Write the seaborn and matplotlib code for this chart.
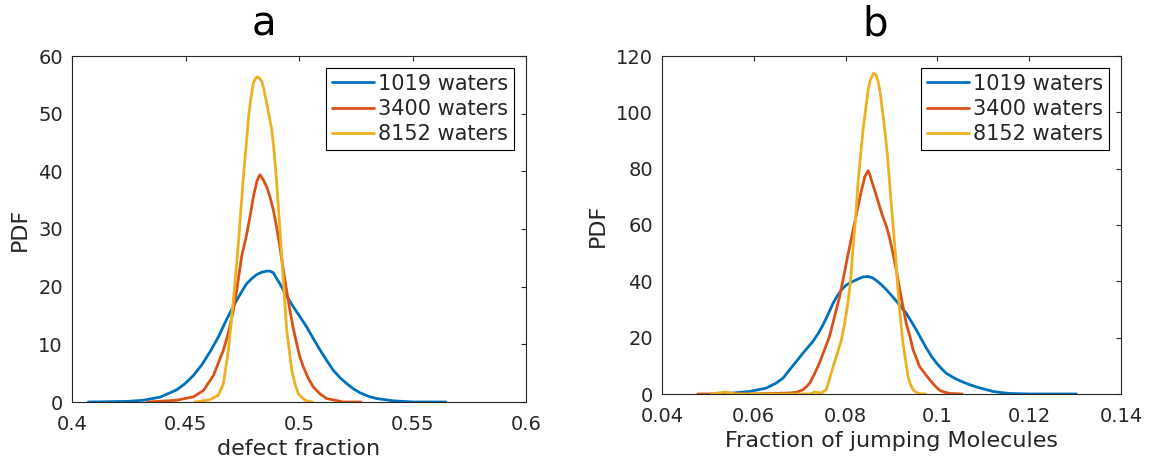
import matplotlib
matplotlib.use("Agg")
import matplotlib.pyplot as plt
import pandas as pd
import seaborn as sns

# ---- panel a: defect fraction densities ----
defect_x_1019 = [0.4072, 0.4241, 0.4314, 0.4388, 0.4461, 0.4498, 0.4535, 0.4571, 0.4608,
                 0.4645, 0.4681, 0.4703, 0.4725, 0.4747, 0.4769, 0.4792, 0.4814, 0.4836,
                 0.4858, 0.4872, 0.4887, 0.4902, 0.4916, 0.4931, 0.4953, 0.4975, 0.5004,
                 0.5034, 0.5063, 0.5093, 0.5122, 0.5151, 0.5181, 0.5210, 0.5239, 0.5269,
                 0.5305, 0.5342, 0.5416, 0.5504, 0.5646]
defect_y_1019 = [0.0, 0.1, 0.3, 0.85, 2.1, 3.2, 4.6, 6.4, 8.7,
                 11.3, 14.3, 16.0, 17.6, 19.1, 20.5, 21.4, 22.1, 22.5,
                 22.7, 22.7, 22.4, 21.4, 20.5, 19.4, 17.9, 16.5, 14.8,
                 13.0, 11.0, 9.0, 7.2, 5.5, 4.2, 3.2, 2.3, 1.6,
                 1.0, 0.6, 0.2, 0.0, 0.0]

defect_x_3400 = [0.4332, 0.4461, 0.4535, 0.4579, 0.4623, 0.4667, 0.4689, 0.4711, 0.4728,
                 0.4747, 0.4767, 0.4784, 0.4799, 0.4814, 0.4821, 0.4828, 0.4843, 0.4858,
                 0.4872, 0.4887, 0.4901, 0.4916, 0.4931, 0.4946, 0.4960, 0.4975, 0.4990,
                 0.5004, 0.5019, 0.5041, 0.5063, 0.5093, 0.5122, 0.5195, 0.5273]
defect_y_3400 = [0.0, 0.3, 0.9, 2.0, 4.6, 9.0, 12.0, 15.9, 20.0,
                 25.2, 28.6, 32.1, 35.6, 38.2, 38.9, 39.4, 38.5, 37.3,
                 35.6, 33.3, 30.4, 26.9, 22.9, 19.2, 15.9, 12.7, 10.1,
                 7.8, 6.1, 4.1, 2.6, 1.4, 0.6, 0.0, 0.0]

defect_x_8152 = [0.4542, 0.4608, 0.4645, 0.4667, 0.4689, 0.4711, 0.4733, 0.4755, 0.4767,
                 0.4778, 0.4787, 0.4799, 0.4808, 0.4816, 0.4825, 0.4836, 0.4846, 0.4858,
                 0.4869, 0.4880, 0.4891, 0.4902, 0.4913, 0.4924, 0.4935, 0.4946, 0.4957,
                 0.4968, 0.4982, 0.4997, 0.5026, 0.5059]
defect_y_8152 = [0.0, 0.4, 1.2, 3.2, 9.0, 17.7, 27.5, 39.1, 44.3,
                 49.5, 52.4, 55.3, 56.1, 56.4, 56.2, 55.6, 54.1, 51.8,
                 49.5, 47.2, 43.2, 37.9, 31.5, 25.2, 18.8, 12.4, 9.0,
                 5.5, 3.2, 1.4, 0.3, 0.0]

# ---- panel b: jumping-molecule fraction densities ----
jump_x_1019 = [0.0507, 0.0555, 0.0591, 0.0627, 0.0649, 0.0664, 0.0678, 0.0693, 0.0707,
               0.0718, 0.0729, 0.0740, 0.0751, 0.0762, 0.0773, 0.0781, 0.0791, 0.0800,
               0.0809, 0.0820, 0.0831, 0.0839, 0.0849, 0.0858, 0.0867, 0.0878, 0.0889,
               0.0900, 0.0911, 0.0921, 0.0932, 0.0943, 0.0954, 0.0965, 0.0976, 0.0987,
               0.0998, 0.1009, 0.1019, 0.1034, 0.1049, 0.1067, 0.1085, 0.1103, 0.1121,
               0.1139, 0.1157, 0.1201, 0.1303]
jump_y_1019 = [0.0, 0.35, 0.9, 2.1, 3.9, 5.7, 8.6, 11.6, 14.5,
               16.6, 18.7, 21.4, 24.6, 28.4, 32.3, 34.6, 37.0, 38.5,
               39.4, 40.3, 41.1, 41.6, 41.7, 41.3, 40.3, 38.8, 37.0,
               35.0, 32.9, 30.9, 28.7, 25.8, 22.8, 19.5, 16.3, 13.4,
               11.0, 9.0, 7.4, 5.9, 4.7, 3.5, 2.5, 1.7, 0.9,
               0.5, 0.2, 0.0, 0.0]

jump_x_3400 = [0.0478, 0.0591, 0.0678, 0.0693, 0.0707, 0.0714, 0.0722, 0.0733, 0.0743,
               0.0754, 0.0765, 0.0776, 0.0787, 0.0798, 0.0805, 0.0809, 0.0818, 0.0827,
               0.0834, 0.0842, 0.0849, 0.0853, 0.0856, 0.0863, 0.0874, 0.0881, 0.0889,
               0.0896, 0.0903, 0.0911, 0.0918, 0.0925, 0.0932, 0.0940, 0.0947, 0.0954,
               0.0961, 0.0972, 0.0983, 0.0994, 0.1005, 0.1016, 0.1027, 0.1054]
jump_y_3400 = [0.0, 0.0, 0.35, 0.6, 1.5, 2.5, 3.9, 7.4, 11.0,
               15.7, 20.5, 27.5, 34.6, 43.5, 49.4, 52.4, 59.5, 66.6,
               71.9, 77.2, 79.3, 77.8, 76.0, 72.5, 66.6, 63.0, 59.5,
               55.3, 50.0, 43.5, 37.0, 31.1, 25.2, 20.5, 15.7, 12.8,
               9.8, 7.4, 5.1, 3.0, 1.3, 0.6, 0.2, 0.0]

jump_x_8152 = [0.0507, 0.0537, 0.0562, 0.0722, 0.0733, 0.0747, 0.0758, 0.0773, 0.0782,
               0.0791, 0.0798, 0.0805, 0.0811, 0.0816, 0.0822, 0.0827, 0.0833, 0.0838,
               0.0844, 0.0849, 0.0854, 0.0861, 0.0866, 0.0871, 0.0876, 0.0881, 0.0887,
               0.0892, 0.0897, 0.0903, 0.0909, 0.0914, 0.0919, 0.0925, 0.0931, 0.0936,
               0.0941, 0.0947, 0.0953, 0.0958, 0.0974]
jump_y_8152 = [0.0, 0.7, 0.0, 0.0, 0.7, 0.35, 1.5, 9.8, 14.5,
               19.3, 25.2, 32.3, 40.6, 51.2, 63.0, 74.8, 85.5, 93.8,
               101.4, 107.9, 111.5, 113.9, 113.3, 110.9, 106.2, 99.7, 91.4,
               83.1, 72.5, 60.7, 48.8, 37.0, 27.5, 18.1, 11.6, 6.3,
               3.5, 1.5, 0.7, 0.2, 0.0]

series_names = ["1019 waters", "3400 waters", "8152 waters"]
series_colors = ["#0072BD", "#D95319", "#EDB120"]

left_xticks = [0.4, 0.45, 0.5, 0.55, 0.6]
left_yticks = [0, 10, 20, 30, 40, 50, 60]
right_xticks = [0.04, 0.06, 0.08, 0.1, 0.12, 0.14]
right_yticks = [0, 20, 40, 60, 80, 100, 120]


def build_frame(xs, ys):
    parts = []
    for name, x, y in zip(series_names, xs, ys):
        parts.append(pd.DataFrame({"x": x, "y": y, "series": name}))
    return pd.concat(parts, ignore_index=True)


df_a = build_frame([defect_x_1019, defect_x_3400, defect_x_8152],
                   [defect_y_1019, defect_y_3400, defect_y_8152])
df_b = build_frame([jump_x_1019, jump_x_3400, jump_x_8152],
                   [jump_y_1019, jump_y_3400, jump_y_8152])

sns.set_theme(style="white")
plt.rcParams["font.family"] = ["DejaVu Sans"]

W, H = 1149, 463
fig = plt.figure(figsize=(W / 100, H / 100), dpi=100)
ax_a = fig.add_axes([72 / W, 1 - 402 / H, 454 / W, 346 / H])
ax_b = fig.add_axes([662 / W, 1 - 394 / H, 459 / W, 338 / H])

palette = dict(zip(series_names, series_colors))
text_color = "#262626"


def style_axes(ax, df, xlim, ylim, xticks, yticks, xlabel):
    sns.lineplot(data=df, x="x", y="y", hue="series", palette=palette,
                 estimator=None, sort=True, linewidth=2.0, ax=ax)
    ax.set_xlim(*xlim)
    ax.set_ylim(*ylim)
    ax.set_xticks(xticks)
    ax.set_yticks(yticks)
    ax.set_xticklabels([f"{t:g}" for t in xticks])
    ax.set_yticklabels([f"{t:g}" for t in yticks])
    ax.tick_params(direction="in", length=3.5, width=0.8, colors=text_color,
                   labelsize=14, top=True, right=True)
    ax.tick_params(axis="x", pad=9)
    ax.tick_params(axis="y", pad=6.5)
    for sp in ax.spines.values():
        sp.set_visible(True)
        sp.set_color(text_color)
        sp.set_linewidth(0.8)
    ax.set_xlabel(xlabel, fontsize=16, color=text_color, labelpad=4)
    ax.set_ylabel("PDF", fontsize=16, color=text_color, labelpad=6)
    ax_w = ax.get_position().width * W
    ax_h = ax.get_position().height * H
    leg = ax.legend(loc="upper right",
                    bbox_to_anchor=(1 - 12 / ax_w, 1 - 12 / ax_h),
                    borderaxespad=0, fontsize=15, frameon=True, fancybox=False,
                    edgecolor="black", framealpha=1, handlelength=2.0,
                    handletextpad=0.22, labelspacing=0.25, borderpad=0.27)
    leg.get_frame().set_linewidth(0.8)
    for line in leg.get_lines():
        line.set_linewidth(2.0)


style_axes(ax_a, df_a, (0.4, 0.6), (0, 60), left_xticks, left_yticks,
           "defect fraction")
style_axes(ax_b, df_b, (0.04, 0.14), (0, 120), right_xticks, right_yticks,
           "Fraction of jumping Molecules")

# panel letters
fig.text(264 / W, 1 - 36 / H, "a", fontsize=29, color="black",
         ha="center", va="baseline")
fig.text(875 / W, 1 - 36 / H, "b", fontsize=29, color="black",
         ha="center", va="baseline")

fig.savefig("out.png", dpi=100)
